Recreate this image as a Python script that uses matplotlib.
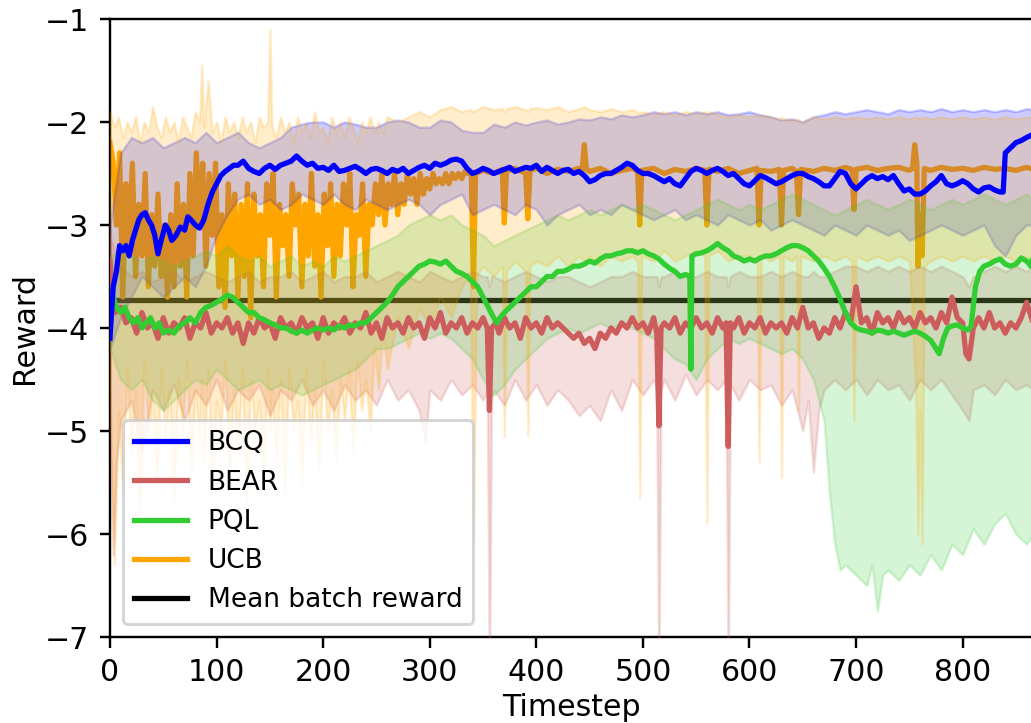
import matplotlib
matplotlib.use("Agg")
import matplotlib.pyplot as plt

# ---------------- data ----------------
mean_batch_reward = -3.73

bcq_t = [0,3,6,9,12,15,18,21,24,27,30,33,36,39,42,45,48,52,55,58,62,66,70,73,76,80,84,88,92,96,
         100,104,108,112,116,120,125,130,135,140,145,150,155,160,165,170,175,180,185,190,195,
         200,205,210,215,220,225,230,235,240,245,250,255,260,265,270,275,280,285,290,295,
         300,305,310,315,320,325,330,335,340,345,350,355,360,365,370,375,380,385,390,395,
         400,405,410,415,420,425,430,435,440,445,450,455,460,465,470,475,480,485,490,495,
         500,505,510,515,520,525,530,535,540,545,550,555,560,565,570,575,580,585,590,595,
         600,605,610,615,620,625,630,635,640,645,650,655,660,665,670,675,680,685,690,695,
         700,705,710,715,720,725,730,735,740,745,750,755,760,765,770,775,780,785,790,795,
         800,805,810,815,820,825,830,835,838,840,845,850,855,860,866]
bcq_mean = [-4.1,-3.6,-3.45,-3.2,-3.25,-3.2,-3.3,-3.15,-3.05,-2.95,-2.9,-2.88,-2.95,-3.0,-3.1,-3.28,-3.15,-3.0,-3.05,-3.15,-3.1,-3.02,-3.05,-2.92,-2.95,-3.0,-3.03,-2.95,-2.8,-2.68,
            -2.6,-2.52,-2.48,-2.45,-2.42,-2.42,-2.38,-2.45,-2.48,-2.5,-2.45,-2.42,-2.46,-2.42,-2.4,-2.38,-2.33,-2.38,-2.42,-2.4,-2.45,
            -2.44,-2.47,-2.42,-2.48,-2.47,-2.45,-2.43,-2.46,-2.5,-2.46,-2.45,-2.47,-2.5,-2.46,-2.48,-2.45,-2.5,-2.47,-2.44,-2.42,
            -2.45,-2.4,-2.42,-2.4,-2.37,-2.36,-2.38,-2.45,-2.5,-2.48,-2.45,-2.47,-2.5,-2.48,-2.46,-2.44,-2.48,-2.46,-2.44,-2.45,
            -2.42,-2.48,-2.44,-2.47,-2.5,-2.47,-2.46,-2.5,-2.48,-2.52,-2.58,-2.56,-2.52,-2.5,-2.5,-2.47,-2.44,-2.4,-2.42,-2.47,
            -2.5,-2.5,-2.52,-2.55,-2.58,-2.55,-2.6,-2.62,-2.55,-2.48,-2.45,-2.47,-2.5,-2.47,-2.45,-2.48,-2.52,-2.5,-2.55,-2.6,
            -2.62,-2.57,-2.52,-2.54,-2.57,-2.6,-2.58,-2.55,-2.52,-2.5,-2.5,-2.53,-2.55,-2.58,-2.62,-2.62,-2.55,-2.48,-2.5,-2.6,
            -2.65,-2.6,-2.55,-2.52,-2.55,-2.53,-2.56,-2.52,-2.6,-2.67,-2.65,-2.7,-2.7,-2.67,-2.62,-2.58,-2.52,-2.6,-2.62,-2.6,
            -2.57,-2.6,-2.65,-2.68,-2.64,-2.63,-2.66,-2.68,-2.68,-2.3,-2.25,-2.2,-2.18,-2.15,-2.12]

bcq_band_t = [0,10,20,30,40,50,60,70,80,90,100,110,120,130,140,150,160,170,180,190,
              200,210,220,230,240,250,260,270,280,290,300,310,320,330,340,350,360,370,380,390,
              400,410,420,430,440,450,460,470,480,490,500,510,520,530,540,550,560,570,580,590,
              600,610,620,630,640,650,660,670,680,690,700,710,720,730,740,750,760,770,780,790,
              800,810,820,830,840,850,860,866]
bcq_hi = [-3.0,-2.3,-2.15,-2.2,-2.15,-2.25,-2.2,-2.15,-2.2,-2.1,-2.2,-2.15,-2.1,-2.2,-2.25,-2.2,-2.15,-2.05,-2.02,-2.0,
          -2.0,-2.05,-2.0,-2.02,-2.05,-2.05,-2.0,-1.98,-2.0,-2.05,-2.05,-1.98,-2.0,-2.08,-2.1,-2.1,-2.02,-2.05,-2.0,-2.03,
          -2.0,-1.98,-2.02,-2.0,-1.97,-1.98,-1.95,-1.97,-1.93,-1.95,-1.93,-1.9,-1.92,-1.9,-1.93,-1.9,-1.92,-1.9,-1.93,-1.92,
          -1.9,-1.93,-1.95,-1.98,-1.97,-2.0,-1.95,-1.93,-1.9,-1.92,-1.9,-1.88,-1.9,-1.92,-1.88,-1.9,-1.88,-1.9,-1.87,-1.9,
          -1.88,-1.9,-1.88,-1.9,-1.88,-1.9,-1.87,-1.88]
bcq_lo = [-4.2,-3.9,-3.7,-3.5,-3.6,-3.7,-3.6,-3.5,-3.6,-3.4,-3.1,-2.9,-2.75,-2.7,-2.8,-2.75,-2.85,-2.8,-2.7,-2.75,
          -2.8,-2.7,-2.8,-2.85,-2.75,-2.8,-2.85,-2.8,-2.75,-2.8,-2.9,-2.8,-2.75,-2.7,-2.9,-2.85,-2.8,-2.85,-2.9,-2.8,
          -2.85,-3.0,-2.9,-2.85,-2.8,-2.9,-2.85,-2.9,-2.8,-2.85,-2.9,-2.95,-2.9,-2.85,-2.95,-2.9,-2.95,-3.0,-2.9,-2.95,
          -3.0,-2.95,-3.05,-3.0,-2.95,-3.0,-3.05,-3.1,-3.0,-3.05,-3.1,-3.0,-3.05,-3.1,-3.05,-3.15,-3.1,-3.05,-3.0,-3.05,
          -3.1,-3.05,-3.0,-3.2,-3.3,-3.1,-3.0,-3.0]

bear_t = [0,2,5,10,15,20,25,30,35,40,45,50,55,60,65,70,75,80,85,90,95,
          100,105,110,115,120,125,130,135,140,145,150,155,160,165,170,175,180,185,190,195,
          200,205,210,215,220,225,230,235,240,245,250,255,260,265,270,275,280,285,290,295,
          300,305,310,315,320,325,330,335,340,345,350,354,356,358,362,365,370,375,380,385,390,395,
          400,405,410,415,420,425,430,435,440,445,450,455,460,465,470,475,480,485,490,495,
          500,505,510,513,515,517,520,525,530,535,540,545,550,555,560,565,570,575,578,580,582,585,590,595,
          600,605,610,615,620,625,630,635,640,645,650,655,660,665,670,675,680,685,690,695,
          700,705,710,715,720,725,730,735,740,745,750,755,760,765,770,775,780,785,790,795,
          800,803,806,810,815,820,825,830,835,840,845,850,855,860,866]
bear_mean = [-3.35,-3.7,-3.85,-3.8,-3.95,-3.9,-4.05,-3.85,-4.0,-3.95,-4.1,-3.9,-4.05,-3.95,-4.0,-3.9,-4.1,-3.95,-4.0,-3.85,-4.05,
             -3.95,-4.0,-3.9,-4.05,-3.95,-4.15,-3.95,-4.05,-3.9,-4.0,-3.95,-4.1,-3.9,-4.0,-3.95,-4.05,-3.9,-4.0,-3.95,-4.1,
             -3.9,-4.05,-3.95,-4.0,-3.9,-4.05,-3.95,-4.0,-3.85,-4.05,-3.95,-4.1,-3.9,-4.0,-3.95,-4.05,-3.9,-4.0,-3.95,-4.1,
             -3.9,-4.0,-3.85,-4.05,-3.95,-4.0,-3.9,-4.05,-3.95,-4.0,-3.9,-4.0,-4.8,-4.0,-3.95,-4.05,-3.9,-4.0,-3.95,-4.1,-3.9,-4.0,
             -3.95,-4.05,-3.9,-4.0,-3.95,-4.0,-4.05,-4.1,-4.05,-4.15,-4.1,-4.2,-4.05,-4.1,-4.0,-4.05,-3.95,-4.0,-3.9,-4.0,
             -3.95,-4.05,-3.9,-4.05,-4.95,-4.0,-3.95,-4.0,-3.9,-4.05,-3.95,-4.0,-3.9,-4.0,-3.95,-4.05,-3.9,-4.0,-3.95,-5.15,-3.95,-4.0,-3.9,-4.05,
             -3.95,-4.0,-3.9,-4.05,-3.95,-4.0,-3.95,-4.05,-3.9,-4.0,-3.8,-4.0,-3.95,-4.1,-4.0,-4.05,-3.9,-4.0,-3.85,-3.95,
             -3.6,-3.95,-3.9,-4.05,-3.85,-3.95,-3.9,-4.0,-3.85,-3.95,-3.9,-4.0,-3.85,-3.95,-3.9,-4.0,-3.85,-3.95,-3.7,-3.9,
             -3.95,-4.25,-4.3,-4.0,-3.9,-4.0,-3.85,-4.0,-3.95,-4.05,-3.95,-4.0,-3.9,-3.75,-3.95]

bear_band_t = [0,3,6,10,20,30,40,50,60,70,80,90,100,110,120,130,140,150,160,170,180,190,
               200,210,220,230,240,250,260,270,280,290,296,300,310,320,330,340,350,354,356,358,360,
               370,380,390,400,410,420,430,440,450,460,470,480,490,500,510,513,515,517,520,
               530,540,550,560,570,578,580,582,590,600,610,620,630,640,650,655,660,665,670,680,690,
               700,710,720,730,740,750,760,770,780,790,800,806,810,820,830,840,850,860,866]
bear_hi = [-3.1,-3.2,-3.3,-3.4,-3.5,-3.45,-3.55,-3.5,-3.45,-3.55,-3.5,-3.45,-3.5,-3.55,-3.5,-3.45,-3.55,-3.5,-3.5,-3.45,-3.55,-3.5,
           -3.45,-3.55,-3.5,-3.5,-3.45,-3.55,-3.5,-3.45,-3.5,-3.55,-3.5,-3.45,-3.5,-3.55,-3.5,-3.45,-3.5,-3.5,-3.6,-3.5,-3.5,
           -3.55,-3.5,-3.45,-3.5,-3.55,-3.5,-3.5,-3.55,-3.6,-3.55,-3.5,-3.5,-3.45,-3.5,-3.5,-3.5,-3.6,-3.5,-3.5,
           -3.45,-3.5,-3.5,-3.45,-3.5,-3.5,-3.6,-3.5,-3.45,-3.5,-3.5,-3.45,-3.5,-3.45,-3.5,-3.5,-3.45,-3.5,-3.5,-3.45,-3.4,
           -3.4,-3.45,-3.4,-3.45,-3.4,-3.45,-3.4,-3.45,-3.4,-3.45,-3.5,-3.6,-3.5,-3.45,-3.4,-3.45,-3.4,-3.45,-3.4]
bear_lo = [-5.0,-6.2,-5.3,-4.9,-4.7,-5.2,-4.6,-4.8,-4.55,-4.9,-4.6,-4.75,-4.5,-4.8,-4.6,-4.7,-4.55,-4.85,-4.6,-4.7,-4.5,-4.75,
           -4.6,-4.8,-4.55,-4.7,-4.6,-4.75,-4.5,-4.7,-4.6,-4.8,-5.1,-4.6,-4.7,-4.5,-4.65,-4.55,-4.7,-4.6,-7.5,-4.7,-4.6,
           -4.75,-4.5,-4.7,-4.55,-4.75,-4.6,-4.7,-4.85,-4.75,-4.9,-4.6,-4.8,-4.5,-4.65,-4.5,-4.6,-7.5,-4.6,-4.5,
           -4.7,-4.45,-4.65,-4.5,-4.6,-4.5,-7.5,-4.55,-4.7,-4.5,-4.6,-4.55,-4.75,-4.6,-5.0,-4.7,-5.4,-4.8,-4.6,-4.5,-4.6,
           -4.5,-4.65,-4.5,-4.6,-4.55,-4.7,-4.5,-4.6,-4.5,-4.65,-4.8,-4.9,-4.6,-4.55,-4.65,-4.5,-4.6,-4.55,-4.6]

pql_t = [0,3,6,10,14,18,22,26,30,34,38,42,46,50,55,60,65,70,75,80,85,90,95,
         100,105,110,115,120,125,130,135,140,145,150,155,160,165,170,175,180,185,190,195,
         200,205,210,215,220,225,230,235,240,245,250,255,260,265,270,275,280,285,290,295,
         300,305,310,315,320,325,330,335,340,345,350,355,360,363,366,370,375,380,385,390,395,
         400,405,410,415,420,425,430,435,440,445,450,455,460,465,470,475,480,485,490,495,
         500,505,510,515,520,525,530,535,540,544,545,546,550,555,560,565,570,575,580,585,590,595,
         600,605,610,615,620,625,630,635,640,645,650,655,660,665,670,675,680,685,690,695,
         700,705,710,715,720,725,730,735,740,745,750,755,760,765,770,775,778,782,786,790,795,
         800,805,808,812,816,820,825,830,835,840,845,850,855,860,864,866]
pql_mean = [-3.75,-3.7,-3.8,-3.85,-3.8,-3.9,-3.95,-3.9,-4.0,-3.95,-3.9,-4.0,-3.95,-4.05,-4.02,-4.05,-3.98,-3.95,-3.9,-3.95,-3.85,-3.8,-3.78,
            -3.75,-3.72,-3.68,-3.7,-3.75,-3.8,-3.85,-3.85,-3.9,-3.92,-3.95,-3.97,-4.0,-4.0,-4.03,-4.05,-4.02,-4.05,-4.02,-4.0,
            -4.02,-4.0,-4.02,-3.98,-4.0,-3.97,-3.98,-3.95,-3.95,-3.9,-3.85,-3.8,-3.75,-3.68,-3.6,-3.55,-3.5,-3.45,-3.4,-3.38,
            -3.35,-3.36,-3.38,-3.35,-3.4,-3.45,-3.47,-3.5,-3.55,-3.6,-3.7,-3.8,-3.9,-3.95,-3.9,-3.85,-3.8,-3.75,-3.7,-3.65,-3.6,
            -3.6,-3.55,-3.5,-3.5,-3.45,-3.45,-3.43,-3.4,-3.4,-3.38,-3.35,-3.37,-3.33,-3.3,-3.3,-3.28,-3.27,-3.25,-3.25,-3.27,
            -3.25,-3.28,-3.3,-3.33,-3.38,-3.42,-3.45,-3.5,-3.48,-3.5,-4.4,-3.3,-3.28,-3.27,-3.25,-3.22,-3.18,-3.22,-3.25,-3.3,-3.32,-3.35,
            -3.33,-3.35,-3.32,-3.3,-3.3,-3.28,-3.25,-3.22,-3.2,-3.2,-3.22,-3.25,-3.3,-3.35,-3.42,-3.5,-3.6,-3.72,-3.85,-3.95,
            -4.0,-4.02,-4.03,-4.05,-4.02,-4.03,-4.05,-4.03,-4.05,-4.07,-4.05,-4.03,-4.05,-4.08,-4.12,-4.2,-4.25,-4.1,-4.0,-3.98,-3.97,
            -4.0,-4.02,-3.98,-3.6,-3.45,-3.4,-3.38,-3.35,-3.33,-3.38,-3.4,-3.38,-3.32,-3.35,-3.4,-3.3]

pql_band_t = [0,10,20,30,40,50,60,70,80,90,100,110,120,130,140,150,160,170,180,190,
              200,210,220,230,240,250,260,270,280,290,300,310,320,330,340,350,360,370,380,390,
              400,410,420,430,440,450,460,470,480,490,500,510,520,530,540,550,560,570,580,590,
              600,610,620,630,640,650,660,670,675,680,685,690,700,710,715,720,725,730,740,750,760,770,780,790,
              800,810,820,830,840,850,860,866]
pql_hi = [-3.3,-3.25,-3.3,-3.35,-3.3,-3.35,-3.4,-3.35,-3.3,-3.25,-3.3,-3.2,-3.3,-3.35,-3.3,-3.4,-3.35,-3.3,-3.4,-3.35,
          -3.4,-3.3,-3.35,-3.3,-3.25,-3.2,-3.15,-3.1,-3.0,-2.95,-2.9,-2.95,-2.9,-3.0,-3.05,-3.1,-3.2,-3.15,-3.1,-3.05,
          -3.0,-2.95,-2.9,-2.95,-2.9,-2.85,-2.9,-2.85,-2.8,-2.85,-2.8,-2.85,-2.9,-2.95,-2.9,-2.85,-2.8,-2.75,-2.8,-2.85,
          -2.8,-2.85,-2.8,-2.75,-2.7,-2.75,-2.8,-2.85,-2.88,-2.9,-2.88,-2.85,-2.8,-2.75,-2.78,-2.8,-2.82,-2.85,-2.8,-2.75,-2.8,-2.85,-2.8,-2.75,
          -2.8,-2.75,-2.7,-2.75,-2.8,-2.75,-2.7,-2.75]
pql_lo = [-4.2,-4.5,-4.6,-4.5,-4.7,-4.8,-4.7,-4.6,-4.5,-4.55,-4.4,-4.5,-4.6,-4.55,-4.5,-4.6,-4.55,-4.6,-4.65,-4.6,
          -4.55,-4.5,-4.45,-4.4,-4.3,-4.2,-4.2,-4.15,-4.1,-4.05,-4.1,-4.05,-4.1,-4.2,-4.3,-4.5,-4.65,-4.55,-4.4,-4.3,
          -4.2,-4.1,-4.05,-4.0,-4.05,-4.0,-3.95,-4.0,-3.95,-4.0,-4.05,-4.1,-4.2,-4.3,-4.35,-4.5,-4.3,-4.2,-4.1,-4.15,
          -4.1,-4.15,-4.2,-4.25,-4.2,-4.3,-4.5,-4.9,-5.6,-6.1,-6.35,-6.3,-6.4,-6.5,-6.3,-6.75,-6.4,-6.35,-6.45,-6.3,-6.4,-6.2,-6.35,-6.1,
          -6.2,-5.95,-6.1,-5.9,-5.8,-6.0,-6.1,-6.0]

ucb_t = [0,3,6,9,12,15,18,21,24,27,30,33,36,39,42,45,48,51,54,57,60,63,66,69,72,75,78,81,84,87,90,93,96,99,
         102,105,108,111,114,117,120,123,126,129,132,135,138,141,144,147,150,153,156,159,162,165,168,171,174,177,
         180,183,186,189,192,195,198,201,204,207,210,213,216,219,222,225,228,231,234,237,240,243,246,249,
         252,255,258,261,264,267,270,273,276,279,282,285,288,291,294,297,300,303,306,309,312,315,318,321,324,327,
         330,333,336,339,341,343,350,360,368,370,372,380,390,392,394,400,410,420,430,440,443,445,447,450,460,470,480,490,
         495,497,499,510,520,530,540,550,558,560,562,570,580,590,600,607,609,611,620,628,630,632,640,644,646,648,
         660,670,680,690,696,698,700,710,720,730,740,750,753,755,757,758,760,762,764,770,780,790,800,810,820,830,840,850,860,866]
ucb_mean = [-2.2,-2.4,-3.0,-2.3,-3.7,-2.6,-3.2,-2.4,-3.5,-2.8,-3.3,-2.5,-3.6,-2.9,-3.4,-2.7,-3.5,-3.0,-3.7,-2.9,-3.6,-2.6,-3.4,-2.8,-3.7,-2.5,-3.3,-2.3,-3.0,-2.4,-3.4,-2.5,-3.1,-2.4,
            -3.6,-2.9,-3.8,-2.6,-3.3,-2.7,-3.7,-2.8,-3.5,-2.6,-3.9,-2.7,-3.3,-2.9,-3.6,-2.6,-3.1,-2.5,-3.7,-2.8,-3.2,-2.9,-3.5,-2.6,-3.0,-2.7,
            -3.6,-2.8,-3.3,-2.5,-3.4,-2.9,-3.7,-2.7,-3.2,-2.6,-3.5,-2.8,-3.3,-2.6,-3.0,-2.5,-3.6,-2.9,-3.1,-2.6,-3.5,-2.8,-3.0,-2.6,
            -2.9,-2.5,-3.0,-2.6,-2.8,-2.5,-2.9,-2.6,-2.8,-2.5,-2.7,-2.55,-2.8,-2.5,-2.7,-2.55,-2.65,-2.5,-2.6,-2.55,-2.6,-2.5,-2.6,-2.5,-2.55,-2.5,
            -2.55,-2.48,-2.5,-2.5,-3.6,-2.5,-2.47,-2.5,-2.46,-2.98,-2.48,-2.45,-2.5,-2.94,-2.47,-2.45,-2.5,-2.46,-2.48,-2.45,-2.47,-2.22,-2.46,-2.48,-2.45,-2.5,-2.47,-2.45,
            -2.48,-3.0,-2.47,-2.45,-2.5,-2.46,-2.48,-2.45,-2.47,-3.0,-2.46,-2.48,-2.45,-2.5,-2.47,-2.45,-3.0,-2.47,-2.48,-2.46,-3.0,-2.47,-2.45,-2.48,-2.9,-2.46,
            -2.48,-2.45,-2.47,-2.44,-2.46,-2.85,-2.46,-2.44,-2.47,-2.45,-2.44,-2.47,-2.45,-2.22,-2.4,-3.4,-2.9,-3.3,-2.45,-2.47,-2.44,-2.46,-2.45,-2.47,-2.44,-2.46,-2.45,-2.47,-2.44,-2.46]

ucb_band_t = [0,4,8,12,16,20,24,28,32,36,40,44,48,52,56,60,64,68,72,76,80,84,86,88,92,96,
              100,104,108,112,116,120,124,128,132,136,140,144,148,150,152,156,160,164,168,172,176,180,184,188,192,196,
              200,204,208,212,216,220,224,228,232,236,240,244,248,252,256,260,270,280,290,300,310,320,330,338,341,344,
              350,360,368,370,372,380,390,392,394,400,410,420,430,440,445,450,460,470,480,490,495,497,499,
              510,520,530,540,550,558,560,562,570,580,590,600,607,609,611,620,628,630,632,640,644,646,648,
              660,670,680,690,696,698,700,710,720,730,740,750,756,758,760,762,764,770,780,790,800,810,820,830,840,850,860,866]
ucb_hi = [-1.9,-2.05,-1.95,-2.15,-2.0,-2.1,-1.95,-2.2,-2.0,-2.1,-1.85,-2.05,-2.15,-1.95,-2.1,-2.0,-2.2,-1.95,-2.05,-2.15,-1.9,-2.0,-1.45,-2.05,-1.6,-2.1,
          -2.0,-2.2,-1.95,-2.1,-2.0,-2.15,-1.95,-2.1,-2.0,-2.2,-1.95,-2.05,-2.0,-1.1,-2.05,-2.15,-1.95,-2.1,-2.0,-2.2,-1.95,-2.1,-2.0,-2.15,-1.9,-2.1,
          -2.05,-2.2,-1.95,-2.1,-2.0,-2.15,-1.95,-2.05,-2.2,-2.0,-2.1,-1.95,-2.1,-2.0,-2.1,-1.95,-2.0,-1.95,-1.9,-1.95,-1.88,-1.85,-1.9,-1.88,-1.9,-1.88,
          -1.85,-1.88,-1.87,-1.9,-1.87,-1.85,-1.88,-1.9,-1.87,-1.86,-1.88,-1.85,-1.9,-1.87,-1.85,-1.88,-1.9,-1.87,-1.9,-1.88,-1.9,-1.92,-1.9,
          -1.92,-1.9,-1.93,-1.9,-1.92,-1.9,-1.93,-1.9,-1.92,-1.95,-1.93,-1.95,-1.93,-1.95,-1.93,-1.95,-1.97,-1.95,-1.97,-1.98,-1.97,-1.98,-2.0,
          -1.95,-1.97,-1.95,-1.97,-1.95,-1.97,-1.95,-1.97,-1.95,-1.97,-1.95,-1.97,-1.95,-1.97,-1.95,-1.97,-1.95,-1.97,-1.95,-1.97,-1.95,-1.97,-1.95,-1.97,-1.95,-1.97,-1.95,-1.96]
ucb_lo = [-4.5,-6.3,-4.8,-5.6,-4.4,-5.2,-4.6,-5.8,-4.3,-5.0,-4.7,-5.5,-4.4,-5.1,-4.6,-5.7,-4.5,-5.0,-4.3,-5.4,-4.6,-5.1,-4.5,-5.3,-4.4,-5.6,
          -4.7,-5.0,-4.3,-5.5,-4.6,-5.2,-4.4,-5.7,-4.5,-5.0,-4.7,-5.4,-4.4,-5.0,-4.6,-5.3,-4.5,-5.6,-4.4,-5.0,-4.7,-5.5,-4.4,-5.1,-4.6,-5.4,
          -4.3,-5.0,-4.6,-5.3,-4.5,-4.9,-4.4,-5.2,-4.3,-4.8,-4.5,-5.0,-4.2,-4.6,-4.0,-4.4,-3.9,-4.2,-3.8,-4.0,-3.7,-3.9,-3.6,-3.5,-6.05,-3.5,
          -3.4,-3.5,-3.4,-5.05,-3.45,-3.35,-3.45,-5.05,-3.4,-3.35,-3.4,-3.3,-3.4,-3.3,-3.35,-3.3,-3.4,-3.3,-3.35,-3.3,-3.35,-5.65,-3.3,
          -3.35,-3.25,-3.35,-3.3,-3.25,-3.3,-5.9,-3.3,-3.25,-3.35,-3.3,-3.3,-3.35,-5.3,-3.3,-3.35,-3.3,-5.45,-3.3,-3.35,-3.3,-4.8,-3.3,
          -3.35,-3.3,-3.35,-3.3,-3.35,-4.9,-3.3,-3.35,-3.3,-3.35,-3.3,-3.35,-4.6,-6.0,-4.8,-6.1,-3.4,-3.35,-3.3,-3.35,-3.3,-3.35,-3.3,-3.35,-3.3,-3.35,-3.3,-3.35]

x_ticks = [0, 100, 200, 300, 400, 500, 600, 700, 800]
y_ticks = [-7, -6, -5, -4, -3, -2, -1]

# ---------------- figure ----------------
DPI = 216
fig = plt.figure(figsize=(1031 / DPI, 723 / DPI), dpi=DPI)
ax = fig.add_axes([110 / 1031, 86 / 723, 923 / 1031, 618 / 723])

C_BCQ, C_BEAR, C_PQL, C_UCB = "blue", "indianred", "limegreen", "orange"
LW = 1.75

# black and UCB lines sit under the shaded bands; the others above them
h_mean = ax.axhline(mean_batch_reward, color="black", lw=LW, zorder=2.0, label="Mean batch reward")
h_ucb, = ax.plot(ucb_t, ucb_mean, color=C_UCB, lw=LW, zorder=2.1, label="UCB")

ax.fill_between(bcq_band_t, bcq_lo, bcq_hi, color=C_BCQ, alpha=0.2, lw=0.8, zorder=3.0)
ax.fill_between(bear_band_t, bear_lo, bear_hi, color=C_BEAR, alpha=0.2, lw=0.8, zorder=3.1)
ax.fill_between(pql_band_t, pql_lo, pql_hi, color=C_PQL, alpha=0.2, lw=0.8, zorder=3.2)
ax.fill_between(ucb_band_t, ucb_lo, ucb_hi, color=C_UCB, alpha=0.2, lw=0.8, zorder=3.3)

h_bear, = ax.plot(bear_t, bear_mean, color=C_BEAR, lw=LW, zorder=4.0, label="BEAR")
h_pql, = ax.plot(pql_t, pql_mean, color=C_PQL, lw=LW, zorder=4.1, label="PQL")
h_bcq, = ax.plot(bcq_t, bcq_mean, color=C_BCQ, lw=LW, zorder=4.2, label="BCQ")

ax.set_xlim(0, 866)
ax.set_ylim(-7, -1)
ax.set_xticks(x_ticks)
ax.set_yticks(y_ticks)
ax.set_xlabel("Timestep", labelpad=2)
ax.set_ylabel("Reward", labelpad=2)
ax.legend(handles=[h_bcq, h_bear, h_pql, h_ucb, h_mean], loc="lower left",
          fontsize=8.8).set_zorder(6)

fig.savefig("out.png", dpi=DPI)
